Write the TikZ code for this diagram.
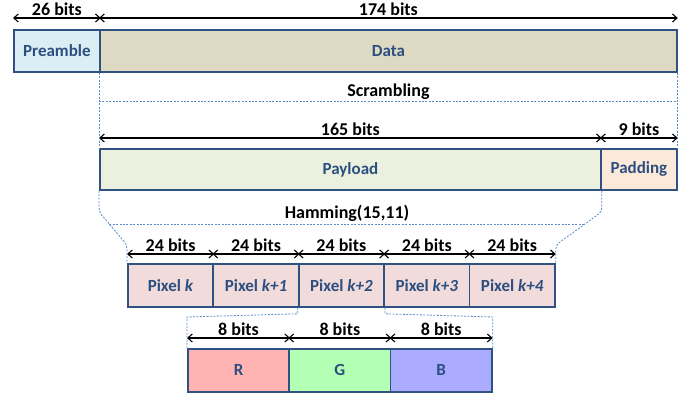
\documentclass[tikz,border=0pt]{standalone}
\usepackage{fontspec}
\setmainfont{Carlito}
\usetikzlibrary{arrows.meta,calc}
\definecolor{frame}{HTML}{2F5283}
\definecolor{lbl}{HTML}{2C4F7F}
\definecolor{guideblue}{HTML}{5B8BC9}
\definecolor{preamblefill}{HTML}{DBEEF4}
\definecolor{datafill}{HTML}{DDD9C3}
\definecolor{payloadfill}{HTML}{EBF1DE}
\definecolor{paddingfill}{HTML}{FDE9D9}
\definecolor{pixelfill}{HTML}{F2DCDB}
\definecolor{rfill}{HTML}{FFB3B3}
\definecolor{gfill}{HTML}{B3FFB3}
\definecolor{bfill}{HTML}{ABABFF}
\begin{document}
\begin{tikzpicture}[x=1pt,y=-1pt,
  font=\bfseries\fontsize{17}{20}\selectfont,
  field/.style={draw=frame, line width=1.8pt, text=lbl, inner sep=0pt,
    anchor=north west, minimum height=42pt},
  dim/.style={{Straight Barb[length=4.5pt,width=8pt]}-{Straight Barb[length=4.5pt,width=8pt]},
    line width=1.1pt},
  dimlabel/.style={above, inner sep=1.5pt, text=black, font=\bfseries\fontsize{18}{20}\selectfont},
  guide/.style={draw=guideblue, line width=0.8pt, dash pattern=on 2pt off 1.4pt}]
\useasboundingbox (0,0) rectangle (689,396);

% frame: preamble + data
\node[field, fill=preamblefill, minimum width=86pt] (pre) at (13,29) {Preamble};
\node[field, fill=datafill, minimum width=577pt] (data) at (99,29) {Data};

% scrambled data: payload + padding
\node[field, fill=payloadfill, minimum width=501pt, minimum height=41pt] (pay) at (99,148) {Payload};
\node[field, fill=paddingfill, minimum width=76pt, minimum height=41pt] (pad) at (600,148) {Padding};

% pixels
\node[field, fill=pixelfill, minimum width=85.4pt, minimum height=43pt] (p1) at (127,263) {Pixel \textit{k}};
\node[field, fill=pixelfill, minimum width=85.4pt, minimum height=43pt] (p2) at (212.4,263) {Pixel \textit{k+1}};
\node[field, fill=pixelfill, minimum width=85.4pt, minimum height=43pt] (p3) at (297.8,263) {Pixel \textit{k+2}};
\node[field, fill=pixelfill, minimum width=85.4pt, minimum height=43pt] (p4) at (383.2,263) {Pixel \textit{k+3}};
\node[field, fill=pixelfill, minimum width=85.4pt, minimum height=43pt] (p5) at (468.6,263) {Pixel \textit{k+4}};

% colour channels
\node[field, fill=rfill, minimum width=101.3pt, minimum height=43pt] (r) at (187,348) {R};
\node[field, fill=gfill, minimum width=101.3pt, minimum height=43pt] (g) at (288.3,348) {G};
\node[field, fill=bfill, minimum width=101.3pt, minimum height=43pt] (b) at (389.6,348) {B};

% bit-length dimensions
\draw[dim] ([yshift=11pt]pre.north west) -- node[dimlabel]{26 bits} ([yshift=11pt]pre.north east);
\draw[dim] ([yshift=11pt]data.north west) -- node[dimlabel]{174 bits} ([yshift=11pt]data.north east);
\draw[dim] ([yshift=10pt]pay.north west) -- node[dimlabel]{165 bits} ([yshift=10pt]pay.north east);
\draw[dim] ([yshift=10pt]pad.north west) -- node[dimlabel]{9 bits} ([yshift=10pt]pad.north east);
\foreach \p in {p1,p2,p3,p4,p5}
  \draw[dim] ([yshift=9pt]\p.north west) -- node[dimlabel]{24 bits} ([yshift=9pt]\p.north east);
\foreach \c in {r,g,b}
  \draw[dim] ([yshift=10pt]\c.north west) -- node[dimlabel]{8 bits} ([yshift=10pt]\c.north east);

% scrambling bracket
\path (data.south west) ++(0,29) coordinate (scrL);
\path (data.south east) ++(0,29) coordinate (scrR);
\draw[guide] (data.south west) -- (pay.north west);
\draw[guide] (data.south east) -- (pad.north east);
\draw[guide] (scrL) -- node[dimlabel, inner sep=2pt]{Scrambling} (scrR);

% Hamming bracket
\path (pay.south west) ++(0,21) coordinate (hamL1);
\path (p1.north west) ++(0,-18) coordinate (hamL2);
\path (pay.south east) ++(0,21) coordinate (hamR1);
\path (p5.north east) ++(0,-18) coordinate (hamR2);
\draw[guide, rounded corners=4pt] (pay.south west) -- (hamL1) -- (hamL2) -- (p1.north west);
\draw[guide, rounded corners=4pt] (pay.south east) -- (hamR1) -- (hamR2) -- (p5.north east);
\draw[guide] ($(hamL1)!0.37!(hamL2)$) -- node[dimlabel, inner sep=2pt]{Hamming(15,11)} ($(hamR1)!0.37!(hamR2)$);

% pixel-to-channel bracket
\path (p3.south west) ++(0,6) coordinate (rgbL1);
\path (r.north west) ++(0,-31) coordinate (rgbL2);
\path (p3.south east) ++(0,6) coordinate (rgbR1);
\path (b.north east) ++(0,-31) coordinate (rgbR2);
\draw[guide] (p3.south west) -- (rgbL1) -- (rgbL2) -- (r.north west);
\draw[guide] (p3.south east) -- (rgbR1) -- (rgbR2) -- (b.north east);
\end{tikzpicture}
\end{document}
